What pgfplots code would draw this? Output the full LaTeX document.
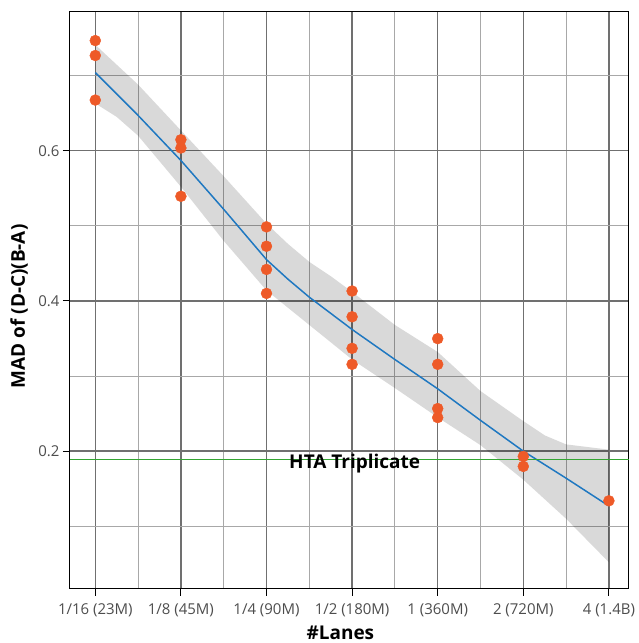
\documentclass[border=0pt]{standalone}
\usepackage{pgfplots}
\pgfplotsset{compat=1.18}
\usepackage{fontspec}
\setmainfont{Open Sans}
\definecolor{dots}{HTML}{EE5A28}
\definecolor{lineblue}{HTML}{1F78C1}
\definecolor{hline}{HTML}{33A532}
\definecolor{gridmajor}{HTML}{707070}
\definecolor{gridminor}{HTML}{A8A8A8}
\definecolor{ticklab}{HTML}{4D4D4D}
\begin{document}
\begin{tikzpicture}
\begin{axis}[
  width=560pt, height=578pt, scale only axis,
  xmin=-0.297, xmax=6.233, ymin=0.0166, ymax=0.7847,
  xtick={0,...,6},
  xticklabels={1/16 (23M),1/8 (45M),1/4 (90M),1/2 (180M),1 (360M),2 (720M),4 (1.4B)},
  minor xtick={0.5,1.5,2.5,3.5,4.5,5.5},
  ytick={0.2,0.4,0.6},
  minor ytick={0.1,0.3,0.5,0.7},
  xtick pos=bottom, ytick pos=left,
  yticklabel style={/pgf/number format/fixed,/pgf/number format/precision=1,/pgf/number format/assume math mode=true},
  xticklabel style={yshift=-4pt},
  ticklabel style={font=\fontsize{15}{18}\selectfont, color=ticklab},
  grid=both,
  major grid style={draw=gridmajor, line width=1.4pt},
  minor grid style={draw=gridminor, line width=1pt},
  tick style={black, line width=1pt},
  major tick length=7pt, minor tick length=0pt,
  tick align=outside,
  axis line style={black, line width=1pt},
  xlabel={\#Lanes},
  ylabel={MAD of (D-C)(B-A)},
  xlabel style={font=\fontsize{19}{22}\selectfont\bfseries, at={(axis description cs:0.484,-0.0761)}, anchor=center},
  ylabel style={font=\fontsize{19}{22}\selectfont\bfseries, at={(axis description cs:-0.091,0.4896)}, anchor=center},
]
% confidence band
\addplot[fill=black, fill opacity=0.15, draw=none] coordinates {
 (0,0.741) (0.5,0.688) (1,0.627) (1.5,0.566) (2,0.503) (2.25,0.476) (2.5,0.452) (2.75,0.433) (3,0.412) (3.5,0.368) (4,0.332) (4.5,0.280) (5,0.240) (5.25,0.221) (5.5,0.209) (6,0.202)
 (6,0.052) (5.5,0.110) (5,0.162) (4.5,0.208) (4,0.245) (3.5,0.284) (3,0.322) (2.5,0.368) (2,0.414) (1.5,0.480) (1,0.552) (0.5,0.620) (0.25,0.645) (0,0.663)
} -- cycle;
% loess line
\addplot[lineblue, line width=1.5pt, mark=none] coordinates {
 (0,0.704) (0.5,0.647) (1,0.587) (1.5,0.522) (2,0.455) (2.25,0.429) (2.5,0.405) (3,0.362) (3.5,0.322) (4,0.283) (4.5,0.241) (5,0.200) (5.5,0.164) (6,0.127)
};
% points
\addplot[only marks, mark=*, mark size=5.5pt, color=dots, mark options={draw=none, fill=dots}] coordinates {
 (0,0.7466) (0,0.7267) (0,0.6674)
 (1,0.6146) (1,0.6036) (1,0.5393)
 (2,0.4986) (2,0.4728) (2,0.4419) (2,0.4100)
 (3,0.4132) (3,0.3789) (3,0.3369) (3,0.3156)
 (4,0.3498) (4,0.3156) (4,0.2567) (4,0.2447)
 (5,0.1930) (5,0.1797)
 (6,0.1339)
};
% HTA triplicate line
\addplot[hline, line width=1.3pt, mark=none] coordinates {(-0.297,0.189) (6.233,0.189)};
\node[font=\fontsize{19}{22}\selectfont\bfseries, anchor=base] at (axis cs:3.03,0.1775) {HTA Triplicate};
\end{axis}
\path ([xshift=-70pt,yshift=-53pt]current axis.south west) rectangle ([xshift=1pt,yshift=12pt]current axis.north east);
\end{tikzpicture}
\end{document}
